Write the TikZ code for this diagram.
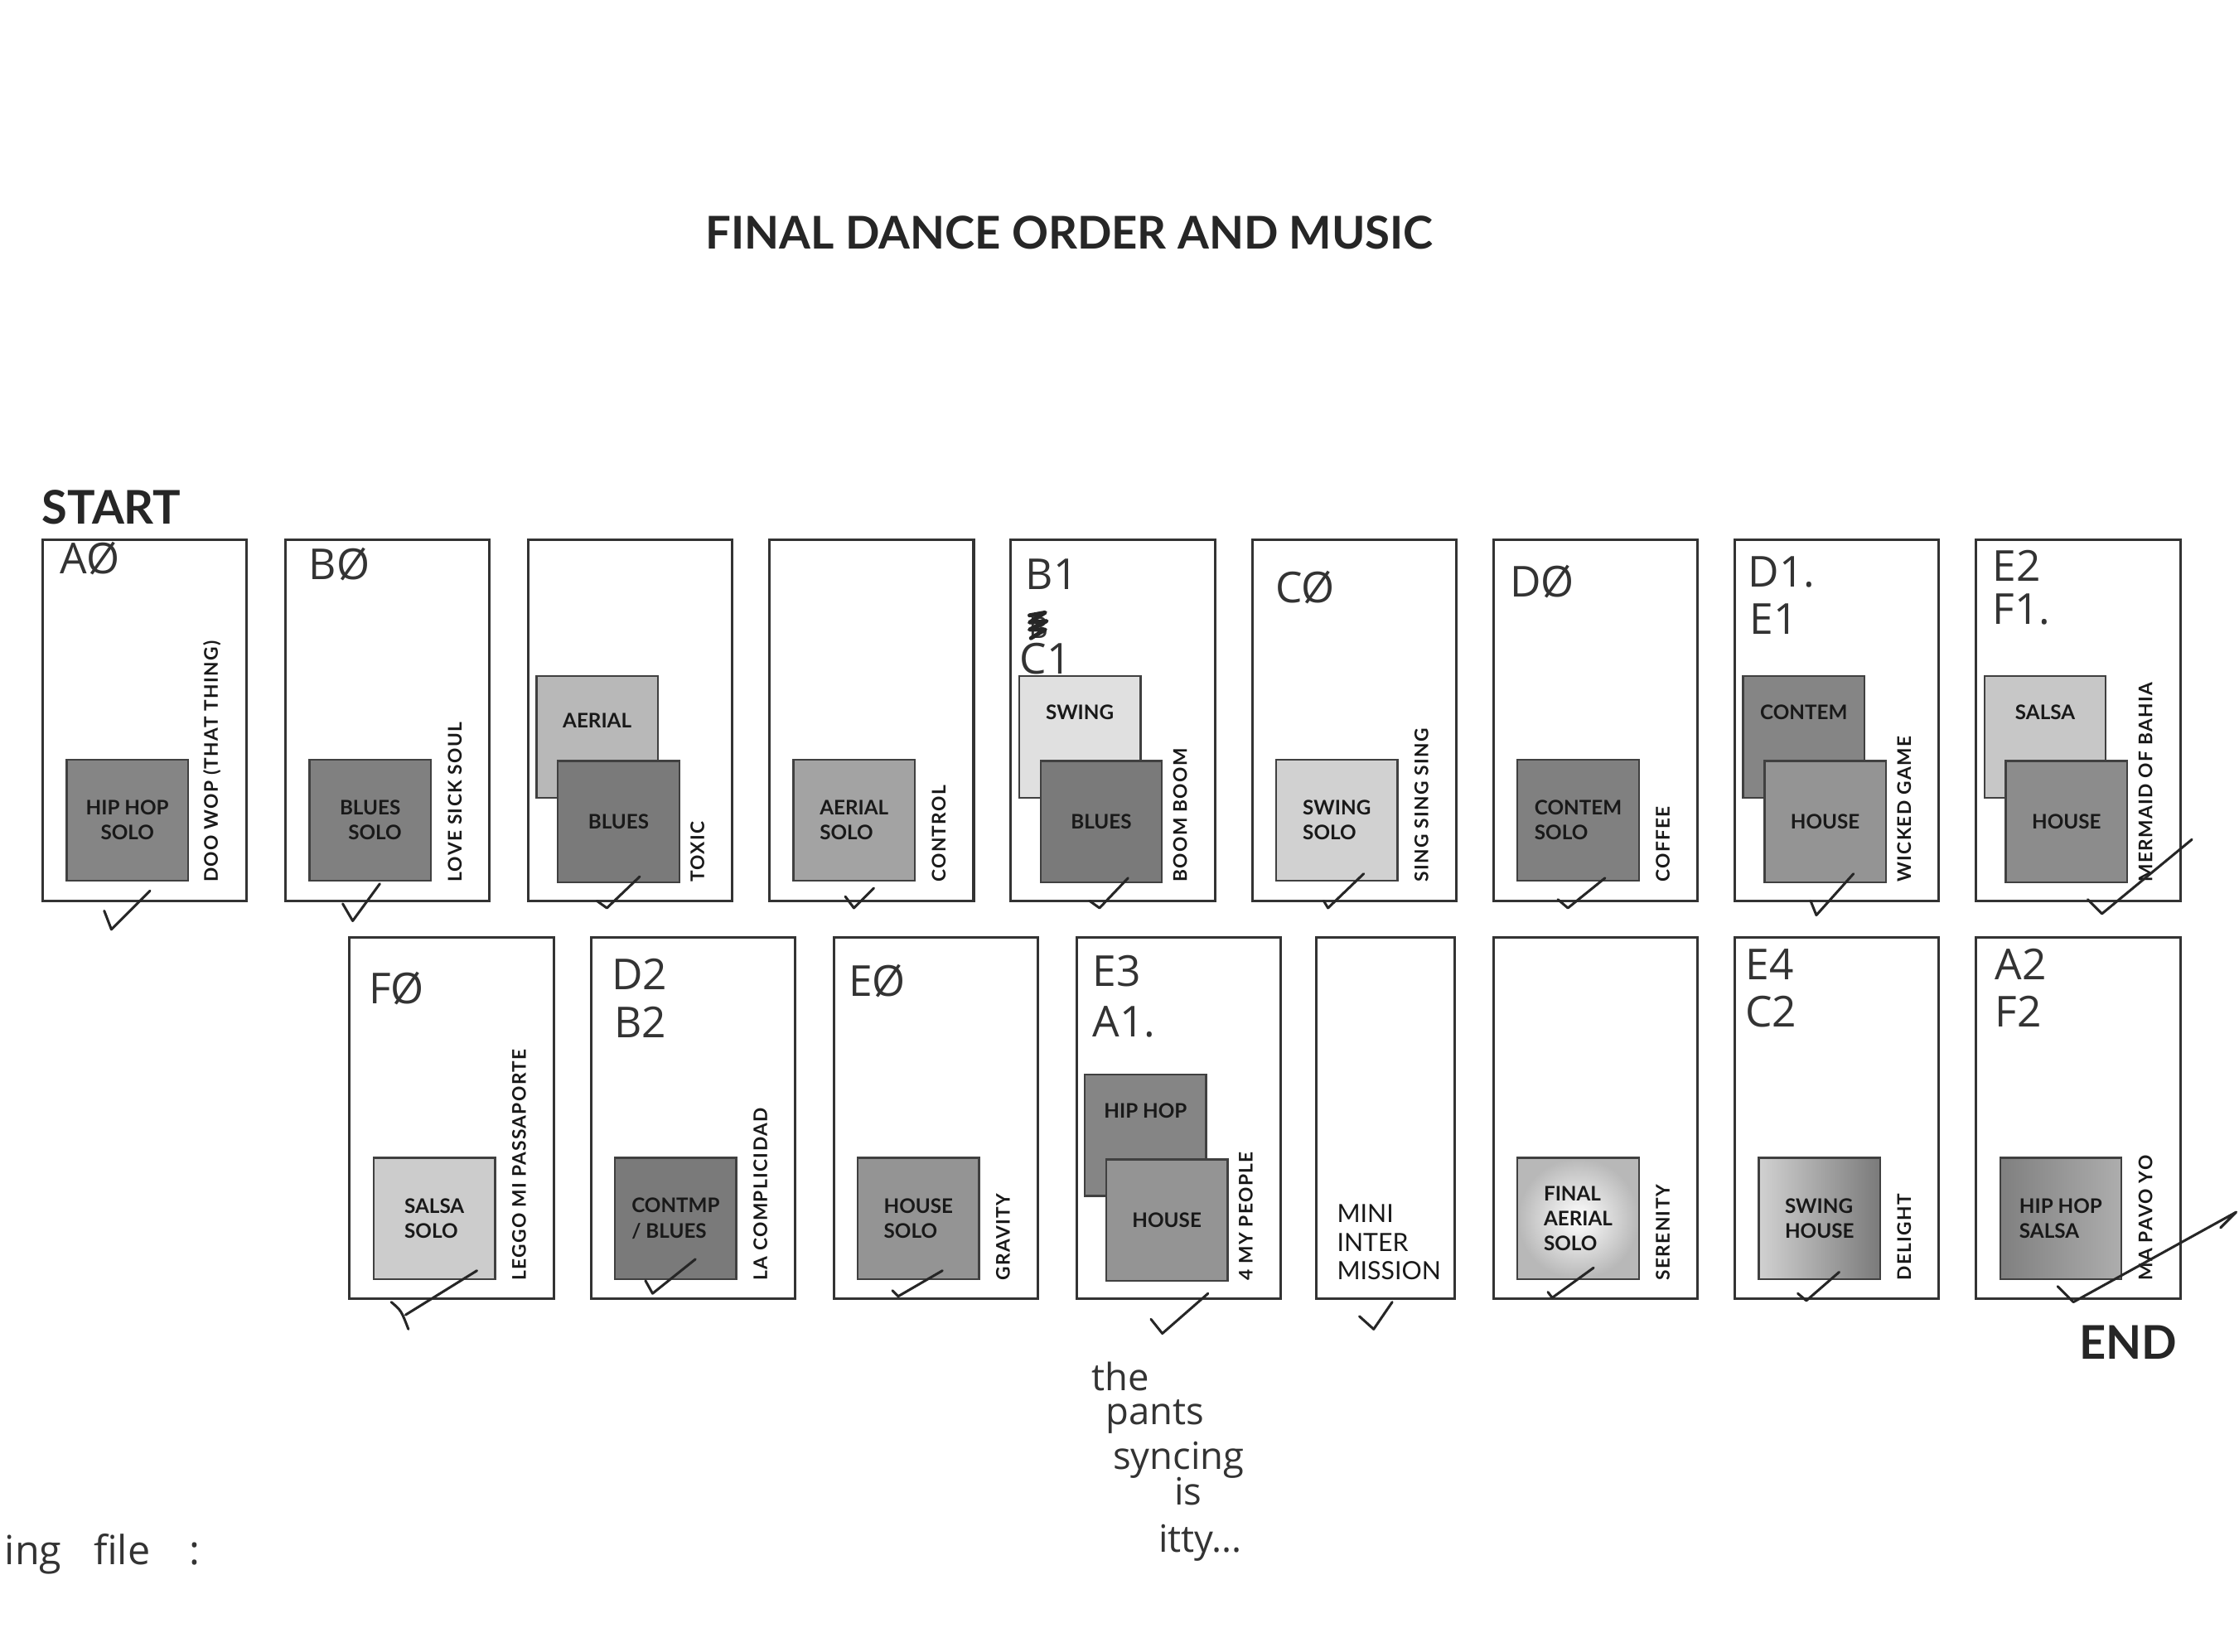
\documentclass[tikz,border=0pt]{standalone}
\usepackage{fontspec}
\setmainfont{Lato}
\newfontfamily\songfont{Lato}[LetterSpace=6.0]
\newfontfamily\handfont{Open Sans}
\usetikzlibrary{positioning}

\tikzset{
  slot/.style={draw=black!80, line width=1pt, minimum width=2.86cm,
    minimum height=5.06cm, anchor=north west, inner sep=0pt},
  dance/.style={draw=black!75, line width=0.8pt, minimum width=1.7cm,
    minimum height=1.7cm, inner sep=0pt, text=black!90, align=left,
    font=\bfseries\fontsize{8}{10}\selectfont},
  solo/.style={dance, anchor=south west, xshift=0.34cm, yshift=0.28cm},
  back/.style={dance, anchor=north west, xshift=0.12cm, yshift=-1.92cm},
  front/.style={dance, anchor=south west, xshift=0.42cm, yshift=0.26cm},
  tag/.style={inner sep=0pt, text=black!90, font=\bfseries\fontsize{8}{10}\selectfont},
  song/.style={xshift=2.39cm, yshift=0.27cm, rotate=90, anchor=west,
    inner sep=0pt, text=black!90, font=\songfont\bfseries\fontsize{7.5}{9}\selectfont},
  hand/.style={inner sep=0pt, anchor=base west, text=black!80,
    font=\handfont\fontsize{17}{18}\selectfont},
  note/.style={inner sep=0pt, anchor=base west, text=black!80,
    font=\handfont\fontsize{15}{16}\selectfont},
  tick/.style={draw=black!85, line width=1pt, line cap=round, line join=round},
}

\begin{document}
\begin{tikzpicture}[x=0.02cm, y=-0.02cm]
  \useasboundingbox (0,0) rectangle (1568,1157);

  \node[font=\bfseries\fontsize{18}{20}\selectfont, text=black!85] (title) at (749,163) {FINAL DANCE ORDER AND MUSIC};
  \node[font=\bfseries\fontsize{18.5}{20}\selectfont, text=black!85, anchor=base west, inner sep=0pt] (start) at (29,367) {START};
  \node[font=\bfseries\fontsize{18.5}{20}\selectfont, text=black!85, anchor=base east, inner sep=0pt] (end) at (1525,952) {END};

  % ---- top row ----
  \node[slot] (top1) at (29,377) {};
  \node[solo, fill=black!48, align=center] (top1sq) at (top1.south west) {HIP HOP\\SOLO};
  \node[song] (top1song) at (top1.south west) {DOO WOP (THAT THING)};
  \node[hand] (top1hand) at (42,402) {AØ};
  \draw[tick] (73,638) -- (78,651) -- (105,624);

  \node[slot] (top2) at (199,377) {};
  \node[solo, fill=black!50, align=center] (top2sq) at (top2.south west) {BLUES\\\ \ SOLO};
  \node[song] (top2song) at (top2.south west) {LOVE SICK SOUL};
  \node[hand] (top2hand) at (216,406) {BØ};
  \draw[tick] (240,633) -- (247,645) -- (266,619);

  \node[slot] (top3) at (369,377) {};
  \node[back, fill=black!28] (top3bk) at (top3.north west) {};
  \node[tag] (top3tag) at ([yshift=-0.64cm]top3bk.north) {AERIAL};
  \node[front, fill=black!52] (top3fr) at (top3.south west) {BLUES};
  \node[song] (top3song) at (top3.south west) {TOXIC};
  \draw[tick] (418,631) -- (425,636) -- (448,614);

  \node[slot] (top4) at (538,377) {};
  \node[solo, fill=black!36] (top4sq) at (top4.south west) {AERIAL\\SOLO};
  \node[song] (top4song) at (top4.south west) {CONTROL};
  \draw[tick] (592,628) -- (598,636) -- (612,622);

  \node[slot] (top5) at (707,377) {};
  \node[back, fill=black!12] (top5bk) at (top5.north west) {};
  \node[tag] (top5tag) at ([yshift=-0.52cm]top5bk.north) {SWING};
  \node[front, fill=black!52] (top5fr) at (top5.south west) {BLUES};
  \node[song] (top5song) at (top5.south west) {BOOM BOOM};
  \node[hand] (top5hand) at (718,413) {B1};
  \node[hand, font=\handfont\fontsize{12}{13}\selectfont] (top5old) at (720,447) {B};
  \draw[tick, line width=1.6pt] (721,431) -- (732,429) -- (721,436) -- (733,435) -- (721,441) -- (732,441) -- (722,447);
  \node[hand] (top5new) at (714,472) {C1};
  \draw[tick] (763,631) -- (770,636) -- (790,615);

  \node[slot] (top6) at (876,377) {};
  \node[solo, fill=black!18] (top6sq) at (top6.south west) {SWING\\SOLO};
  \node[song] (top6song) at (top6.south west) {SING SING SING};
  \node[hand] (top6hand) at (893,422) {CØ};
  \draw[tick] (927,631) -- (930,636) -- (955,612);

  \node[slot] (top7) at (1045,377) {};
  \node[solo, fill=black!50] (top7sq) at (top7.south west) {CONTEM\\SOLO};
  \node[song] (top7song) at (top7.south west) {COFFEE};
  \node[hand] (top7hand) at (1057,418) {DØ};
  \draw[tick] (1091,630) -- (1098,636) -- (1124,615);

  \node[slot] (top8) at (1214,377) {};
  \node[back, fill=black!48] (top8bk) at (top8.north west) {};
  \node[tag] (top8tag) at ([yshift=-0.52cm]top8bk.north) {CONTEM};
  \node[front, fill=black!42] (top8fr) at (top8.south west) {HOUSE};
  \node[song] (top8song) at (top8.south west) {WICKED GAME};
  \node[hand] (top8hand) at (1224,411) {D1.};
  \node[hand] (top8new) at (1225,444) {E1};
  \draw[tick] (1268,631) -- (1272,641) -- (1298,612);

  \node[slot] (top9) at (1383,377) {};
  \node[back, fill=black!22] (top9bk) at (top9.north west) {};
  \node[tag] (top9tag) at ([yshift=-0.52cm]top9bk.north) {SALSA};
  \node[front, fill=black!45] (top9fr) at (top9.south west) {HOUSE};
  \node[song] (top9song) at (top9.south west) {MERMAID OF BAHIA};
  \node[hand] (top9hand) at (1395,407) {E2};
  \node[hand] (top9new) at (1395,437) {F1.};
  \draw[tick] (1462,630) -- (1472,640) -- (1535,588);

  % ---- bottom row ----
  \node[slot] (bot1) at (244,656) {};
  \node[solo, fill=black!20] (bot1sq) at (bot1.south west) {SALSA\\SOLO};
  \node[song] (bot1song) at (bot1.south west) {LEGGO MI PASSAPORTE};
  \node[hand] (bot1hand) at (258,703) {FØ};
  \draw[tick] (334,890) -- (284,921);
  \draw[tick] (274,912) .. controls (281,918) .. (286,931);

  \node[slot] (bot2) at (413,656) {};
  \node[solo, fill=black!52] (bot2sq) at (bot2.south west) {CONTMP\\/ BLUES};
  \node[song] (bot2song) at (bot2.south west) {LA COMPLICIDAD};
  \node[hand] (bot2hand) at (428,693) {D2};
  \node[hand] (bot2new) at (430,727) {B2};
  \draw[tick] (452,897) -- (457,906) -- (487,882);

  \node[slot] (bot3) at (583,656) {};
  \node[solo, fill=black!42] (bot3sq) at (bot3.south west) {HOUSE\\SOLO};
  \node[song] (bot3song) at (bot3.south west) {GRAVITY};
  \node[hand] (bot3hand) at (594,698) {EØ};
  \draw[tick] (625,904) -- (629,908) -- (660,890);

  \node[slot] (bot4) at (753,656) {};
  \node[back, fill=black!48] (bot4bk) at (bot4.north west) {};
  \node[tag] (bot4tag) at ([yshift=-0.52cm]bot4bk.north) {HIP HOP};
  \node[front, fill=black!42] (bot4fr) at (bot4.south west) {HOUSE};
  \node[song] (bot4song) at (bot4.south west) {4 MY PEOPLE};
  \node[hand] (bot4hand) at (765,691) {E3};
  \node[hand] (bot4new) at (765,726) {A1.};
  \draw[tick] (806,924) -- (814,934) -- (846,906);

  \node[slot, minimum width=1.94cm] (bot5) at (921,656) {};
  \node[inner sep=0pt, anchor=south west, align=left, text=black!90,
    font=\fontsize{10}{11.5}\selectfont] (bot5txt) at (936,897) {MINI\\INTER\\MISSION};
  \draw[tick] (952,922) -- (962,931) -- (975,912);

  \node[slot] (bot6) at (1045,656) {};
  \node[solo, inner color=white, outer color=black!28] (bot6sq) at (bot6.south west) {FINAL\\AERIAL\\SOLO};
  \node[song] (bot6song) at (bot6.south west) {SERENITY};
  \draw[tick] (1084,905) -- (1087,909) -- (1116,888);

  \node[slot] (bot7) at (1214,656) {};
  \node[solo, left color=black!18, right color=black!52] (bot7sq) at (bot7.south west) {SWING\\HOUSE};
  \node[song] (bot7song) at (bot7.south west) {DELIGHT};
  \node[hand] (bot7hand) at (1222,686) {E4};
  \node[hand] (bot7new) at (1222,719) {C2};
  \draw[tick] (1259,906) -- (1265,911) -- (1288,891);

  \node[slot] (bot8) at (1383,656) {};
  \node[solo, left color=black!50, right color=black!32] (bot8sq) at (bot8.south west) {HIP HOP\\SALSA};
  \node[song] (bot8song) at (bot8.south west) {MA PAVO YO};
  \node[hand] (bot8hand) at (1397,686) {A2};
  \node[hand] (bot8new) at (1397,719) {F2};
  \draw[tick] (1441,901) -- (1452,912) -- (1566,849) -- (1555,860);

  % ---- notes ----
  \node[note] (note1) at (764,974) {the};
  \node[note] (note2) at (774,998) {pants};
  \node[note] (note3) at (779,1029) {syncing};
  \node[note] (note4) at (822,1054) {is};
  \node[note] (note5) at (811,1087) {itty...};
  \node[note, font=\handfont\fontsize{16}{17}\selectfont] (file) at (3,1096) {ing\hspace{0.45cm}file\hspace{0.55cm}:};
\end{tikzpicture}
\end{document}
